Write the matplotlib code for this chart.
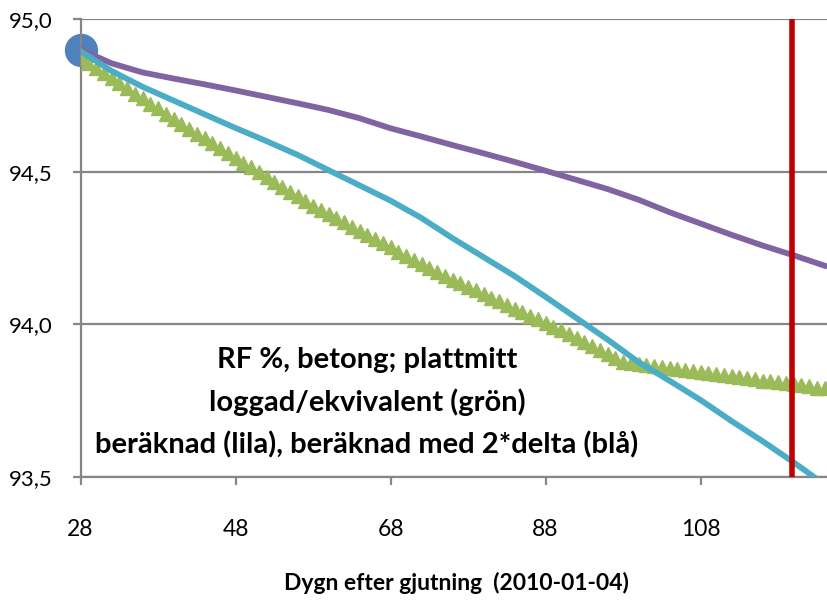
import matplotlib
matplotlib.use("Agg")
import matplotlib.pyplot as plt
from matplotlib.ticker import FuncFormatter

# ---- data ----
green_days = list(range(28, 125))
green_rf = [94.873, 94.856, 94.840, 94.823, 94.806, 94.790, 94.773, 94.756, 94.740, 94.723,
            94.707, 94.690, 94.673, 94.657, 94.640, 94.624, 94.609, 94.593, 94.577, 94.561,
            94.546, 94.530, 94.514, 94.498, 94.483, 94.467, 94.451, 94.435, 94.420, 94.404,
            94.388, 94.374, 94.361, 94.347, 94.334, 94.320, 94.306, 94.293, 94.279, 94.265,
            94.252, 94.238, 94.225, 94.211, 94.197, 94.184, 94.170, 94.158, 94.146, 94.134,
            94.122, 94.111, 94.099, 94.087, 94.075, 94.063, 94.051, 94.039, 94.027, 94.016,
            94.004, 93.992, 93.980, 93.967, 93.954, 93.941, 93.928, 93.915, 93.902, 93.889,
            93.878, 93.873, 93.869, 93.866, 93.863, 93.859, 93.856, 93.853, 93.850, 93.846,
            93.843, 93.840, 93.836, 93.833, 93.830, 93.826, 93.823, 93.820, 93.816, 93.813,
            93.810, 93.807, 93.803, 93.800, 93.797, 93.793, 93.790]

line_days = [28, 32, 36, 40, 44, 48, 52, 56, 60, 64, 68, 72, 76, 80, 84, 88, 92, 96,
             100, 104, 108, 112, 116, 120, 124]
purple_rf = [94.900, 94.855, 94.825, 94.805, 94.786, 94.766, 94.745, 94.724, 94.702, 94.675,
             94.642, 94.615, 94.587, 94.560, 94.532, 94.503, 94.473, 94.443, 94.408, 94.367,
             94.330, 94.293, 94.258, 94.226, 94.192]
blue_rf = [94.895, 94.830, 94.778, 94.733, 94.688, 94.643, 94.600, 94.555, 94.505, 94.455,
           94.405, 94.348, 94.282, 94.220, 94.158, 94.090, 94.020, 93.950, 93.876, 93.815,
           93.752, 93.683, 93.617, 93.548, 93.475]

start_day = [28]
start_rf = [94.9]
red_day = 119.8

x_ticks = [28, 48, 68, 88, 108]
y_ticks = [93.5, 94.0, 94.5, 95.0]

annotation = "RF %, betong; plattmitt\nloggad/ekvivalent (grön)\nberäknad (lila), beräknad med 2*delta (blå)"
xlabel = "Dygn efter gjutning  (2010-01-04)"

plt.rcParams['font.family'] = ["Lato", "DejaVu Sans"]

fig = plt.figure(figsize=(8.27, 6.05), dpi=100)
ax = fig.add_axes([80.5 / 827, 1 - 477 / 605, 1 - 80.5 / 827, (477 - 19) / 605])

grid_c = "#868686"
ax.set_xlim(28, 124.3)
ax.set_ylim(93.5, 95.0)
ax.set_yticks(y_ticks)
ax.set_xticks(x_ticks)
ax.yaxis.set_major_formatter(FuncFormatter(lambda v, p: f"{v:.1f}".replace(".", ",")))
for y in y_ticks:
    ax.axhline(y, color=grid_c, lw=1.6, zorder=1)
for s in ["top", "right"]:
    ax.spines[s].set_visible(False)
for s in ["left", "bottom"]:
    ax.spines[s].set_color(grid_c)
    ax.spines[s].set_linewidth(1.6)
ax.tick_params(axis="y", length=6, width=1.6, color=grid_c, pad=14, labelsize=16)
ax.tick_params(axis="x", length=6, width=1.6, color=grid_c, pad=24, labelsize=16.5)

ax.plot(green_days, green_rf, linestyle="none", marker="^", markersize=10,
        color="#9BBB59", markeredgecolor="#9BBB59", zorder=3, clip_on=True)
ax.plot(line_days, purple_rf, color="#8064A2", lw=4.2, zorder=4)
ax.plot(line_days, blue_rf, color="#4BACC6", lw=4.2, zorder=4)
ax.axvline(red_day, color="#C00000", lw=4.0, zorder=5)
ax.plot(start_day, start_rf, marker="o", markersize=23, color="#4F81BD",
        linestyle="none", zorder=2, clip_on=False)

fig.text(367 / 827, 1 - 403 / 605, annotation, ha="center", va="center",
         fontsize=21, fontweight="bold", linespacing=1.68)
fig.text(456 / 827, 1 - 583 / 605, xlabel, ha="center", va="center",
         fontsize=16.5, fontweight="bold")

fig.savefig("out.png", dpi=100)
